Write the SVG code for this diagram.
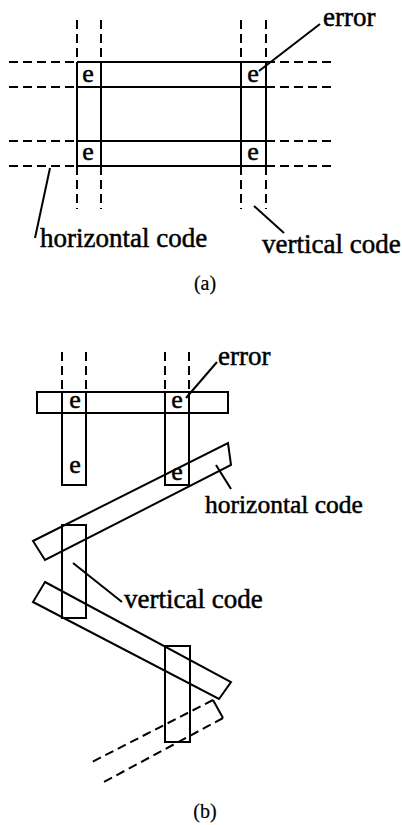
<svg xmlns="http://www.w3.org/2000/svg" width="402" height="825" viewBox="0 0 402 825">
<style>
.s{fill:none;stroke:#000;stroke-width:2}
.d{fill:none;stroke:#000;stroke-width:2;stroke-dasharray:9 5}
.t{font-family:"Liberation Serif","Times New Roman",serif;fill:#000;stroke:#000;stroke-width:0.5}
.lab{font-size:27px}
.e{font-size:26px;text-anchor:middle}
.cap{font-size:20px;text-anchor:middle;stroke-width:0.2}
</style>
<rect width="402" height="825" fill="#fff"/>
<g id="connectors">
  <path class="d" d="M9 62H77M9 87H77M9 141H77M9 166H77M266 62H334M266 87H334M266 141H334M266 166H334"/>
  <path class="d" d="M77 20V62M101 20V62M241 20V62M266 20V62M77 166V209M101 166V209M241 166V209M266 166V209"/>
  <path class="s" d="M320 24L259 71"/>
  <path class="s" d="M50 168L35 238"/>
  <path class="s" d="M254 206L284 233"/>
  <path class="d" d="M62 352V392M86 352V392M165 352V392M189 352V392"/>
  <path class="d" d="M213 700L90 763M223 718L102 783"/>
  <path class="s" d="M213 700L223 718"/>
  <path class="s" d="M217 362L186 398"/>
  <path class="s" d="M216 465L231 489"/>
  <path class="s" d="M73 563L122 602"/>
</g>
<g id="a-grid">
  <path class="s" d="M77 62H266M77 87H266M77 141H266M77 166H266M77 62V166M101 62V166M241 62V166M266 62V166"/>
</g>
<g id="a-e-cells">
  <text class="t e" x="88" y="82">e</text>
  <text class="t e" x="253" y="82">e</text>
  <text class="t e" x="88" y="160">e</text>
  <text class="t e" x="253" y="160">e</text>
</g>
<g id="a-error"><text class="t lab" x="323" y="26">error</text></g>
<g id="a-horizontal-code"><text class="t lab" x="40" y="247">horizontal code</text></g>
<g id="a-vertical-code"><text class="t lab" x="262" y="253">vertical code</text></g>
<g id="a-caption"><text class="t cap" x="205" y="290">(a)</text></g>

<g id="b-top-row"><rect class="s" x="37" y="392" width="191" height="21"/></g>
<g id="b-col1"><path class="s" d="M62 392V485H86V392"/></g>
<g id="b-col2"><path class="s" d="M165 392V485H189V392"/></g>
<g id="b-bar1"><polygon class="s" points="228,443 231,465 45,560 33,541"/></g>
<g id="b-col-mid"><rect class="s" x="62" y="525" width="24" height="93"/></g>
<g id="b-bar2"><polygon class="s" points="45,582 231,682 219,699 33,602"/></g>
<g id="b-col3"><rect class="s" x="165" y="646" width="25" height="96"/></g>
<g id="b-e-cells">
  <text class="t e" x="75" y="408">e</text>
  <text class="t e" x="177" y="408">e</text>
  <text class="t e" x="75" y="473">e</text>
  <text class="t e" x="177" y="480">e</text>
</g>
<g id="b-error"><text class="t lab" x="218" y="365" font-size="26">error</text></g>
<g id="b-horizontal-code"><text class="t lab" x="205" y="513" style="font-size:25.5px">horizontal code</text></g>
<g id="b-vertical-code"><text class="t lab" x="124" y="608">vertical code</text></g>
<g id="b-caption"><text class="t cap" x="205" y="818">(b)</text></g>
</svg>
